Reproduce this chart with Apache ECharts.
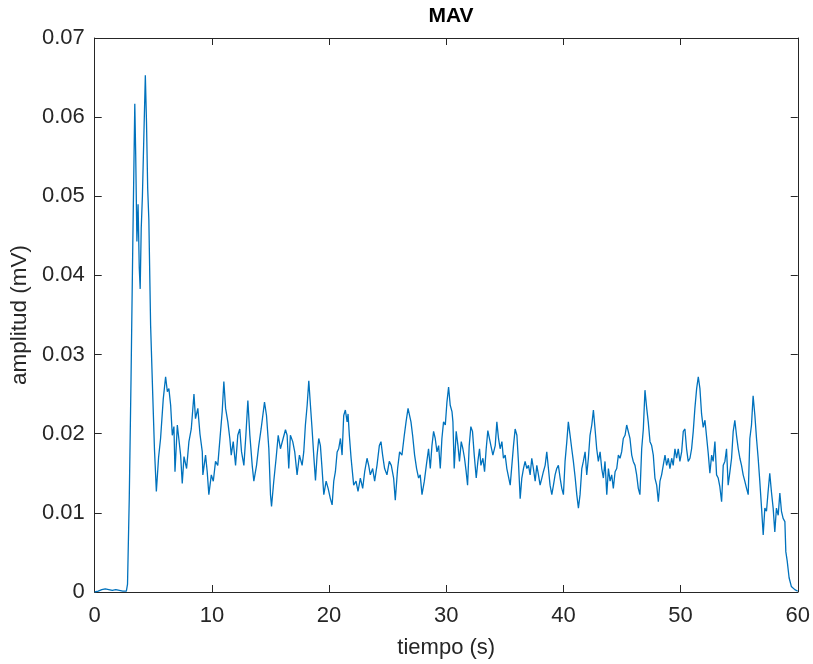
<!DOCTYPE html>
<html>
<head>
<meta charset="utf-8">
<script src="https://cdn.jsdelivr.net/npm/echarts@6/dist/echarts.min.js"></script>
<style>
html,body{margin:0;padding:0;background:#fff;}
#chart{width:813px;height:664px;}
</style>
</head>
<body>
<div id="chart"></div>
<script>
// time (s)
const tiempo = [
0,0.3,0.6,0.9,1.2,1.5,1.8,2.1,2.4,2.7,2.8,2.95,3.1,3.25,3.42,3.5,3.6,3.7,3.8,3.88,3.97,4.07,4.2,4.32,4.42,4.52,4.62,4.77,4.95,5.1,
5.26,5.45,5.62,5.85,6.05,6.2,6.33,6.48,6.62,6.76,6.85,7.05,7.19,7.33,7.47,7.62,7.84,8.04,8.24,8.47,8.6,8.8,8.98,9.18,9.23,9.46,9.6,9.74,9.95,
10.12,10.31,10.5,10.74,10.88,11.02,11.17,11.36,11.53,11.65,11.82,12.02,12.21,12.38,12.53,12.73,12.9,13.07,13.24,13.44,13.58,13.81,14.0,14.2,14.49,14.66,14.86,15.0,15.09,15.28,15.48,15.66,15.85,
16.08,16.28,16.42,16.56,16.7,16.9,17.07,17.27,17.47,17.7,17.84,17.98,18.13,18.27,18.41,18.55,18.69,18.84,18.98,19.12,19.26,19.4,19.55,19.75,19.92,20.11,20.26,20.4,20.54,20.69,20.82,20.97,
21.11,21.25,21.39,21.54,21.62,21.73,21.88,22.1,22.3,22.47,22.67,22.87,23.04,23.24,23.38,23.52,23.72,23.89,24.09,24.29,24.43,24.57,24.74,24.94,25.14,25.31,25.51,25.65,25.85,26.02,26.22,26.42,
26.57,26.74,26.85,26.99,27.13,27.3,27.47,27.64,27.78,27.93,28.13,28.3,28.49,28.64,28.78,28.92,29.06,29.21,29.35,29.49,29.63,29.77,29.92,30.06,30.2,30.34,30.49,30.57,30.68,30.85,31.0,
31.13,31.28,31.42,31.56,31.7,31.82,31.96,32.1,32.24,32.39,32.56,32.7,32.84,32.96,33.13,33.27,33.41,33.55,33.69,33.81,33.98,34.18,34.32,34.46,34.6,34.75,34.88,35.03,35.17,35.31,35.46,35.6,
35.74,35.88,36.03,36.16,36.31,36.45,36.59,36.73,36.88,37.02,37.16,37.3,37.44,37.59,37.73,37.87,38.01,38.16,38.29,38.44,38.58,38.72,38.86,39.01,39.15,39.29,39.43,39.57,39.72,39.86,40.0,
40.14,40.29,40.42,40.57,40.71,40.85,41.0,41.14,41.28,41.42,41.57,41.7,41.85,41.99,42.13,42.27,42.42,42.56,42.7,42.84,42.98,43.13,43.27,43.41,43.55,43.7,43.84,43.98,44.12,44.26,44.41,44.55,
44.69,44.83,44.97,45.11,45.26,45.4,45.54,45.68,45.83,45.96,46.11,46.25,46.39,46.53,46.68,46.82,46.96,47.11,47.24,47.39,47.53,47.67,47.81,47.96,48.1,48.24,48.38,48.52,48.67,48.81,48.95,
49.09,49.24,49.37,49.52,49.66,49.8,49.94,50.09,50.23,50.37,50.51,50.65,50.8,50.94,51.08,51.22,51.37,51.51,51.65,51.79,51.93,52.08,52.22,52.36,52.5,52.65,52.78,52.93,53.07,53.21,53.35,
53.5,53.64,53.78,53.92,54.06,54.21,54.35,54.49,54.63,54.77,54.92,55.06,55.2,55.34,55.48,55.63,55.77,55.91,56.05,56.19,56.34,56.48,56.62,56.76,56.91,57.05,57.19,57.33,57.47,57.61,57.75,
57.9,58.04,58.18,58.33,58.47,58.61,58.75,58.9,58.98,59.1,59.26,59.45,59.75,60
];
// amplitude (mV)
const amplitud = [
0,0.0001,0.0003,0.0004,0.0003,0.0002,0.0003,0.0002,0.0001,0.0001,0.001,0.012,0.027,0.044,0.0617,0.055,0.0443,0.049,0.041,0.0383,0.046,0.05,0.058,0.0653,0.0593,0.051,0.047,0.0337,0.025,0.018,
0.0127,0.017,0.0194,0.0244,0.0272,0.0253,0.0257,0.0236,0.0198,0.0209,0.0152,0.0211,0.0192,0.0173,0.0137,0.0171,0.0156,0.019,0.0206,0.025,0.0219,0.0232,0.02,0.0177,0.0148,0.0173,0.0152,0.0123,0.0148,
0.014,0.0165,0.016,0.0203,0.0228,0.0266,0.0232,0.0215,0.0194,0.0173,0.019,0.016,0.0198,0.0206,0.0177,0.016,0.0198,0.0242,0.0198,0.016,0.014,0.016,0.0185,0.0206,0.024,0.0223,0.0181,0.0123,0.0108,0.014,0.0169,0.0198,0.0181,
0.0194,0.0205,0.0198,0.0156,0.0198,0.019,0.0177,0.0148,0.0173,0.016,0.0177,0.0211,0.0236,0.0267,0.0236,0.0206,0.0173,0.0141,0.0173,0.0194,0.0185,0.0156,0.0123,0.014,0.0131,0.0118,0.011,0.014,0.0152,0.0177,0.0181,0.0194,
0.0173,0.0223,0.023,0.0215,0.0225,0.0198,0.0169,0.0135,0.014,0.0127,0.0144,0.0131,0.0152,0.0169,0.016,0.0148,0.0156,0.014,0.016,0.0185,0.019,0.0173,0.0156,0.0148,0.0165,0.016,0.0144,0.0116,0.0156,0.0177,0.0173,0.0198,
0.0215,0.0232,0.0232,0.0215,0.0198,0.0173,0.0156,0.0144,0.0148,0.0123,0.014,0.016,0.0181,0.0156,0.0185,0.0203,0.0194,0.0177,0.0185,0.0156,0.0194,0.0215,0.0211,0.024,0.0259,0.0236,0.0228,0.0215,0.0156,0.0203,0.0185,
0.0165,0.019,0.0181,0.0169,0.0152,0.0135,0.0185,0.0209,0.0203,0.0173,0.0144,0.0165,0.0181,0.016,0.0169,0.0152,0.0181,0.0204,0.0206,0.0185,0.0173,0.0185,0.0215,0.0194,0.0181,0.019,0.0169,0.0173,0.0156,0.0156,0.0135,0.016,
0.0185,0.0206,0.0198,0.0165,0.0118,0.0144,0.0156,0.0165,0.0156,0.016,0.0148,0.0169,0.0156,0.014,0.016,0.0148,0.0135,0.0144,0.0152,0.016,0.0177,0.0156,0.0135,0.0123,0.0135,0.0148,0.0156,0.016,0.0144,0.0131,0.0123,
0.0165,0.019,0.0215,0.0198,0.0181,0.0165,0.0145,0.0123,0.0106,0.0123,0.0156,0.0165,0.0177,0.0148,0.0169,0.0198,0.0211,0.023,0.0206,0.0181,0.0165,0.0177,0.0156,0.0144,0.0165,0.0123,0.0156,0.014,0.0148,0.0131,0.0152,0.0156,
0.0173,0.0169,0.0177,0.0194,0.0198,0.0211,0.0211,0.0194,0.0173,0.0165,0.016,0.0148,0.0131,0.0123,0.0181,0.0206,0.0255,0.0232,0.0215,0.019,0.0185,0.0173,0.0144,0.0135,0.0114,0.014,0.0148,0.016,0.0173,0.016,0.0169,
0.0156,0.0169,0.016,0.0181,0.0169,0.0181,0.0165,0.0177,0.0203,0.0206,0.0181,0.0165,0.0169,0.0181,0.0203,0.0232,0.0257,0.0272,0.0257,0.0225,0.0208,0.0217,0.0196,0.0175,0.015,0.0173,0.0165,0.019,0.0148,0.0144,0.0133,
0.0114,0.016,0.0165,0.0181,0.0135,0.0152,0.0169,0.0203,0.0217,0.0198,0.0181,0.0169,0.016,0.0148,0.014,0.0131,0.0123,0.0194,0.0211,0.0248,0.0223,0.0194,0.0169,0.014,0.0106,0.0072,0.0106,0.0102,0.0127,0.015,0.0127,
0.0106,0.0076,0.0106,0.0097,0.0125,0.0102,0.0093,0.0089,0.0051,0.0039,0.0018,0.0007,0.0003,0.0001
];
const xTicks = [0,10,20,30,40,50,60];
const yTicks = [0,0.01,0.02,0.03,0.04,0.05,0.06,0.07];

const pts = tiempo.map((t,i)=>[t, amplitud[i]]);
const chart = echarts.init(document.getElementById('chart'), null, {renderer:'canvas'});
const font = '"Liberation Sans", Arial, Helvetica, sans-serif';
const axisCol = '#262626';
const lineStyleAxis = {color: axisCol, width: 1};
chart.setOption({
  animation:false,
  backgroundColor:'#ffffff',
  title:{text:'MAV', left:446, top:1, textAlign:'center',
    textStyle:{fontFamily:font, fontSize:21, fontWeight:'bold', color:'#000'}},
  grid:{left:94, right:15, top:38, bottom:70, show:false},
  xAxis:[{
    type:'value', min:xTicks[0], max:xTicks[xTicks.length-1], interval:10, position:'bottom',
    axisLine:{show:true, onZero:false, lineStyle:lineStyleAxis},
    axisTick:{show:true, inside:true, length:7, lineStyle:lineStyleAxis},
    axisLabel:{show:true, margin:13, fontFamily:font, fontSize:22, color:axisCol},
    splitLine:{show:false},
    name:'tiempo (s)', nameLocation:'middle', nameGap:45,
    nameTextStyle:{fontFamily:font, fontSize:22, color:axisCol}
  },{
    type:'value', min:0, max:60, interval:10, position:'top',
    axisLine:{show:true, onZero:false, lineStyle:lineStyleAxis},
    axisTick:{show:true, inside:true, length:7, lineStyle:lineStyleAxis},
    axisLabel:{show:false}, splitLine:{show:false}
  }],
  yAxis:[{
    type:'value', min:yTicks[0], max:yTicks[yTicks.length-1], interval:0.01, position:'left',
    axisLine:{show:true, onZero:false, lineStyle:lineStyleAxis},
    axisTick:{show:true, inside:true, length:7, lineStyle:lineStyleAxis},
    axisLabel:{show:true, margin:10, fontFamily:font, fontSize:22, color:axisCol,
      formatter:v=> v===0 ? '0' : v.toFixed(2)},
    splitLine:{show:false},
    name:'amplitud (mV)', nameLocation:'middle', nameGap:60, nameRotate:90,
    nameTextStyle:{fontFamily:font, fontSize:22.5, color:axisCol}
  },{
    type:'value', min:0, max:0.07, interval:0.01, position:'right',
    axisLine:{show:true, onZero:false, lineStyle:lineStyleAxis},
    axisTick:{show:true, inside:true, length:7, lineStyle:lineStyleAxis},
    axisLabel:{show:false}, splitLine:{show:false}
  }],
  series:[{
    type:'line', data:pts, xAxisIndex:0, yAxisIndex:0,
    showSymbol:false, symbol:'none', smooth:false,
    lineStyle:{color:'#0072BD', width:1.3},
    clip:true
  }]
});
</script>
</body>
</html>
